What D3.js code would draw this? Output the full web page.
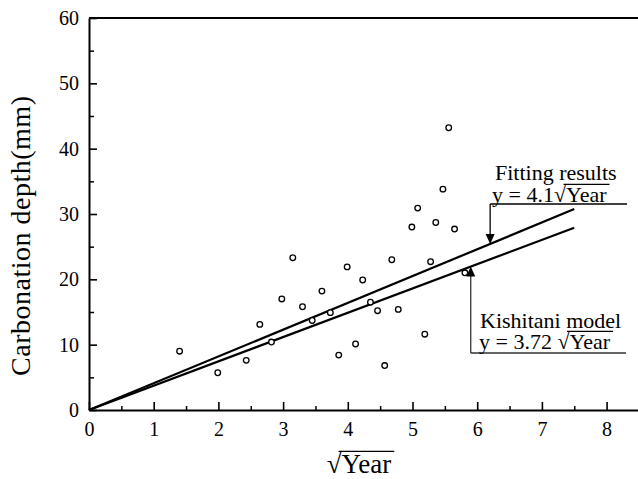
<!DOCTYPE html>
<html>
<head>
<meta charset="utf-8">
<script src="https://cdn.jsdelivr.net/npm/d3@7"></script>
<style>
  body { margin: 0; background: #fff; }
  svg text { font-family: "Liberation Serif", "Times New Roman", serif; }
</style>
</head>
<body>
<div id="chart"></div>
<script>
// data: x = sqrt(year), y = carbonation depth (mm)
var sqrtYear = [1.40, 1.99, 2.43, 2.64, 2.82, 2.98, 3.15, 3.30, 3.45, 3.60, 3.73, 3.86, 3.99, 4.12, 4.23,
                4.35, 4.46, 4.57, 4.68, 4.78, 4.99, 5.08, 5.19, 5.28, 5.36, 5.47, 5.56, 5.65, 5.81];
var depth    = [9.0, 5.7, 7.6, 13.1, 10.4, 17.0, 23.3, 15.8, 13.7, 18.2, 14.9, 8.4, 21.9, 10.1, 19.9,
                16.5, 15.2, 6.8, 23.0, 15.4, 28.0, 30.9, 11.6, 22.7, 28.7, 33.8, 43.2, 27.7, 21.0];

// the two straight lines (end points)
var fitX = [0, 7.5], fitY = [0, 30.75];     // y = 4.1 sqrt(Year)
var kisX = [0, 7.5], kisY = [0, 27.9];      // y = 3.72 sqrt(Year)

var xTicks = [0, 1, 2, 3, 4, 5, 6, 7, 8];
var yTicks = [0, 10, 20, 30, 40, 50, 60];

var fitLabel = ["Fitting results", "y = 4.1"];
var kisLabel = ["Kishitani model", "y = 3.72 "];

var FONT = "'Liberation Serif', 'Times New Roman', serif";
var W = 638, H = 479;
var svg = d3.select("#chart").append("svg").attr("width", W).attr("height", H);

var x = d3.scaleLinear().domain([0, 8.5]).range([89, 89 + 8.5 * 64.7]);
var y = d3.scaleLinear().domain([0, 60]).range([410, 18]);

// minor ticks
var xMinor = d3.range(0.5, 8.5, 1), yMinor = d3.range(5, 60, 10);
svg.append("g").attr("transform", "translate(0,410)")
  .call(d3.axisBottom(x).tickValues(xMinor).tickSize(-4).tickSizeOuter(0).tickFormat(""))
  .call(g => g.select(".domain").remove())
  .selectAll("line").attr("stroke-width", 1.5);
svg.append("g").attr("transform", "translate(89,0)")
  .call(d3.axisLeft(y).tickValues(yMinor).tickSize(-5).tickSizeOuter(0).tickFormat(""))
  .call(g => g.select(".domain").remove())
  .selectAll("line").attr("stroke-width", 1.5);

// main axes
var gx = svg.append("g").attr("transform", "translate(0,410)")
  .call(d3.axisBottom(x).tickValues(xTicks).tickSize(-8).tickSizeOuter(0).tickPadding(12));
var gy = svg.append("g").attr("transform", "translate(89,0)")
  .call(d3.axisLeft(y).tickValues(yTicks).tickSize(-8).tickSizeOuter(0).tickPadding(10));
[gx, gy].forEach(function(g){
  g.attr("font-family", FONT).attr("font-size", 20);
  g.select(".domain").attr("stroke-width", 2);
  g.selectAll(".tick line").attr("stroke-width", 1.6);
  g.selectAll(".tick text").attr("fill", "#000").attr("font-family", FONT);
});

// top frame line
svg.append("line").attr("x1", x(0)).attr("x2", x(8.5)).attr("y1", y(60)).attr("y2", y(60))
  .attr("stroke", "#000").attr("stroke-width", 2);

// model lines
var line = d3.line().x(d => x(d[0])).y(d => y(d[1]));
svg.append("path").datum(d3.zip(fitX, fitY)).attr("d", line)
  .attr("fill", "none").attr("stroke", "#000").attr("stroke-width", 2.2);
svg.append("path").datum(d3.zip(kisX, kisY)).attr("d", line)
  .attr("fill", "none").attr("stroke", "#000").attr("stroke-width", 2.2);

// measured points
svg.append("g").selectAll("circle").data(d3.zip(sqrtYear, depth)).join("circle")
  .attr("cx", d => x(d[0])).attr("cy", d => y(d[1])).attr("r", 2.8)
  .attr("fill", "#fff").attr("stroke", "#000").attr("stroke-width", 1.3);

// text with a square-root sign over "Year"
function sqrtText(g, px, py, prefix, size, anchor) {
  var t = g.append("text").attr("x", px).attr("y", py).attr("font-size", size)
    .attr("font-family", FONT)
    .attr("text-anchor", anchor || "start").attr("fill", "#000")
    .text(prefix + "\u221AYear");
  var node = t.node(), n = prefix.length;
  var r0 = node.getStartPositionOfChar(n).x, r1 = node.getEndPositionOfChar(n).x;
  var end = node.getEndPositionOfChar(n + 4).x;
  g.append("line").attr("x1", r0 + (r1 - r0) * 0.8).attr("x2", end + 3)
    .attr("y1", py - size * 0.8).attr("y2", py - size * 0.8)
    .attr("stroke", "#000").attr("stroke-width", 1.3);
  return t;
}

// axis titles
svg.append("text").attr("transform", "translate(30,236) rotate(-90)")
  .attr("text-anchor", "middle").attr("font-size", 28).attr("font-family", FONT).attr("fill", "#000")
  .attr("textLength", 280).attr("lengthAdjust", "spacing")
  .text("Carbonation depth(mm)");
sqrtText(svg, 359, 473, "", 27, "middle");

// annotations
function arrowHead(px, py, dir) {
  svg.append("path")
    .attr("d", "M" + px + "," + py + "l-4.5," + (-10 * dir) + "h9z")
    .attr("fill", "#000");
}
var ann = svg.append("g");
var fx = x(6.2), fy = y(6.2 * fitY[1] / 7.5);
ann.append("line").attr("x1", fx).attr("x2", 627).attr("y1", 204).attr("y2", 204).attr("stroke", "#000").attr("stroke-width", 1.3);
ann.append("line").attr("x1", fx).attr("x2", fx).attr("y1", 204).attr("y2", fy - 6).attr("stroke", "#000").attr("stroke-width", 1.3);
arrowHead(fx, fy, 1);
ann.append("text").attr("x", 495).attr("y", 180).attr("font-size", 22).attr("font-family", FONT).attr("fill", "#000").text(fitLabel[0]);
sqrtText(ann, 492, 202, fitLabel[1], 22);

var kx = x(5.9), ky = y(5.9 * kisY[1] / 7.5);
ann.append("line").attr("x1", kx).attr("x2", 626).attr("y1", 353).attr("y2", 353).attr("stroke", "#333").attr("stroke-width", 1.3);
ann.append("line").attr("x1", kx).attr("x2", kx).attr("y1", 353).attr("y2", ky + 6).attr("stroke", "#333").attr("stroke-width", 1.3);
arrowHead(kx, ky, -1);
ann.append("text").attr("x", 480).attr("y", 328).attr("font-size", 22).attr("font-family", FONT).attr("fill", "#000").text(kisLabel[0]);
sqrtText(ann, 479, 349, kisLabel[1], 22);
</script>
</body>
</html>
